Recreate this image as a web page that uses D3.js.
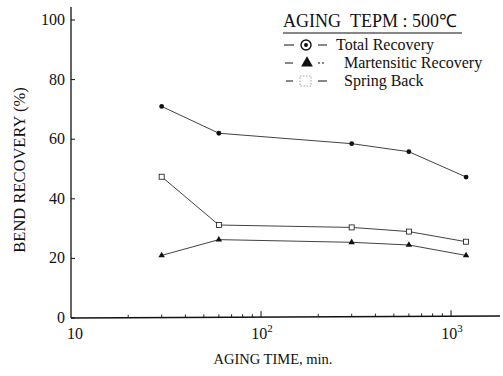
<!DOCTYPE html>
<html>
<head>
<meta charset="utf-8">
<script src="https://cdn.jsdelivr.net/npm/d3@7/dist/d3.min.js"></script>
<style>
  @font-face {
    font-family: "ChartSerif";
    src: local("Liberation Serif"), local("LiberationSerif"), local("LiberationSerif-Regular"), local("Tinos"), local("Times New Roman");
  }
  html, body { margin: 0; padding: 0; background: #fff; }
  svg { display: block; }
</style>
</head>
<body>
<svg id="chart" width="503" height="376"></svg>
<script>
// Aging time in minutes at 500 °C
const agingTime = [30, 60, 300, 600, 1200];
// Bend recovery (%) for each aging time
const totalRecovery = [71, 62, 58.5, 55.8, 47.3];
const martensiticRecovery = [21, 26.3, 25.4, 24.5, 21];
const springBack = [47.4, 31.2, 30.4, 29, 25.6];

const yTicks = [0, 20, 40, 60, 80, 100];
const xMajorTicks = [10, 100, 1000];
const xMinorTicks = [20, 30, 40, 50, 60, 70, 80, 90, 200, 300, 400, 500, 600, 700, 800, 900];

const legendTitle = "AGING\u00a0\u00a0TEPM : 500\u2103";
const legendLabels = ["Total Recovery", "Martensitic Recovery", "Spring Back"];

const FONT = '"Liberation Serif", "ChartSerif"';
const svg = d3.select("#chart");

const x = d3.scaleLog().domain([10, 1810]).range([71, 500]);
const y = d3.scaleLinear().domain([0, 100]).range([318, 20]);

const ink = "#111";
const addText = (sel) => sel.append("text").attr("fill", ink).style("font-family", FONT);

// Axis titles and tick labels first
svg.selectAll(".ylab").data(yTicks).join("text")
  .attr("fill", ink).style("font-family", FONT)
  .attr("x", 65).attr("y", d => y(d) + 5)
  .attr("text-anchor", "end").attr("font-size", 16)
  .text(d => d);

xMajorTicks.forEach(v => {
  const exp = Math.round(Math.log10(v));
  const t = addText(svg)
    .attr("x", x(v) + (exp > 1 ? 1 : 4)).attr("y", 339)
    .attr("text-anchor", "middle").attr("font-size", 16);
  t.append("tspan").text("10");
  if (exp > 1) {
    t.append("tspan").attr("dy", -7).attr("font-size", 11).text(exp);
  }
});

addText(svg).attr("x", 273).attr("y", 364)
  .attr("text-anchor", "middle").attr("font-size", 14.5)
  .text("AGING TIME, min.");
addText(svg)
  .attr("transform", "translate(25,170) rotate(-90)")
  .attr("text-anchor", "middle").attr("font-size", 16.5)
  .text("BEND RECOVERY (%)");

// Axes: left and bottom lines only
svg.append("line").attr("x1", x(10)).attr("x2", x(10))
  .attr("y1", 7).attr("y2", y(0)).attr("stroke", ink).attr("stroke-width", 1.3);
svg.append("line").attr("x1", x(10)).attr("x2", 500)
  .attr("y1", y(0)).attr("y2", y(0) - 2).attr("stroke", ink).attr("stroke-width", 1.3);

// Y ticks (inward)
svg.selectAll(".ytick").data(yTicks).join("line")
  .attr("x1", x(10)).attr("x2", x(10) + 4)
  .attr("y1", d => y(d)).attr("y2", d => y(d))
  .attr("stroke", ink).attr("stroke-width", 1);

// X ticks (inward)
const xTickY = d => y(0) - 2 * (Math.log10(d) - 1) / Math.log10(181);
svg.selectAll(".xminor").data(xMinorTicks).join("line")
  .attr("x1", d => x(d)).attr("x2", d => x(d))
  .attr("y1", d => xTickY(d)).attr("y2", d => xTickY(d) - 3)
  .attr("stroke", ink).attr("stroke-width", 0.9);
svg.selectAll(".xmajor").data(xMajorTicks.slice(1)).join("line")
  .attr("x1", d => x(d)).attr("x2", d => x(d))
  .attr("y1", d => xTickY(d)).attr("y2", d => xTickY(d) - 6)
  .attr("stroke", ink).attr("stroke-width", 1);

// Series lines
const line = d3.line().x((d, i) => x(agingTime[i])).y(d => y(d));
[totalRecovery, martensiticRecovery, springBack].forEach(series => {
  svg.append("path").attr("d", line(series))
    .attr("fill", "none").attr("stroke", ink).attr("stroke-width", 0.8);
});

// Markers
svg.selectAll(".tot").data(totalRecovery).join("circle")
  .attr("cx", (d, i) => x(agingTime[i])).attr("cy", d => y(d))
  .attr("r", 2.4).attr("fill", ink);

const tri = d3.symbol().type(d3.symbolTriangle).size(18);
svg.selectAll(".mart").data(martensiticRecovery).join("path")
  .attr("d", tri)
  .attr("transform", (d, i) => `translate(${x(agingTime[i])},${y(d)})`)
  .attr("fill", ink);

svg.selectAll(".spr").data(springBack).join("rect")
  .attr("x", (d, i) => x(agingTime[i]) - 2.5).attr("y", d => y(d) - 2.5)
  .attr("width", 5).attr("height", 5)
  .attr("fill", "#fff").attr("stroke", ink).attr("stroke-width", 0.8);

// Legend
const lg = svg.append("g");
addText(lg).attr("x", 283).attr("y", 27).attr("font-size", 18)
  .text(legendTitle);
lg.append("line").attr("x1", 283).attr("x2", 462).attr("y1", 33).attr("y2", 33)
  .attr("stroke", ink).attr("stroke-width", 1.2);

const rowY = [45, 63, 81];
const dash = (x1, x2, yy, dashed) => lg.append("line")
  .attr("x1", x1).attr("x2", x2).attr("y1", yy).attr("y2", yy)
  .attr("stroke", ink).attr("stroke-width", 1)
  .attr("stroke-dasharray", dashed ? "2,2" : null);

// Row 1: circled dot
dash(284, 294, rowY[0], false);
lg.append("circle").attr("cx", 306).attr("cy", rowY[0]).attr("r", 5)
  .attr("fill", "none").attr("stroke", ink).attr("stroke-width", 1.4);
lg.append("circle").attr("cx", 306).attr("cy", rowY[0]).attr("r", 2).attr("fill", ink);
dash(318, 327, rowY[0], false);

// Row 2: filled triangle
dash(285, 293, rowY[1], false);
lg.append("path").attr("d", d3.symbol().type(d3.symbolTriangle).size(60)())
  .attr("transform", `translate(307,${rowY[1]})`).attr("fill", ink);
dash(318, 325, rowY[1], true);

// Row 3: dotted open square
dash(286, 293, rowY[2], false);
lg.append("rect").attr("x", 300).attr("y", rowY[2] - 5).attr("width", 11).attr("height", 10)
  .attr("fill", "none").attr("stroke", "#888").attr("stroke-width", 0.8)
  .attr("stroke-dasharray", "1.5,1.5");
dash(318, 327, rowY[2], false);

const labelX = [336, 344, 344];
legendLabels.forEach((s, i) => {
  addText(lg).attr("x", labelX[i]).attr("y", rowY[i] + 5).attr("font-size", 16)
    .text(s);
});
</script>
</body>
</html>
